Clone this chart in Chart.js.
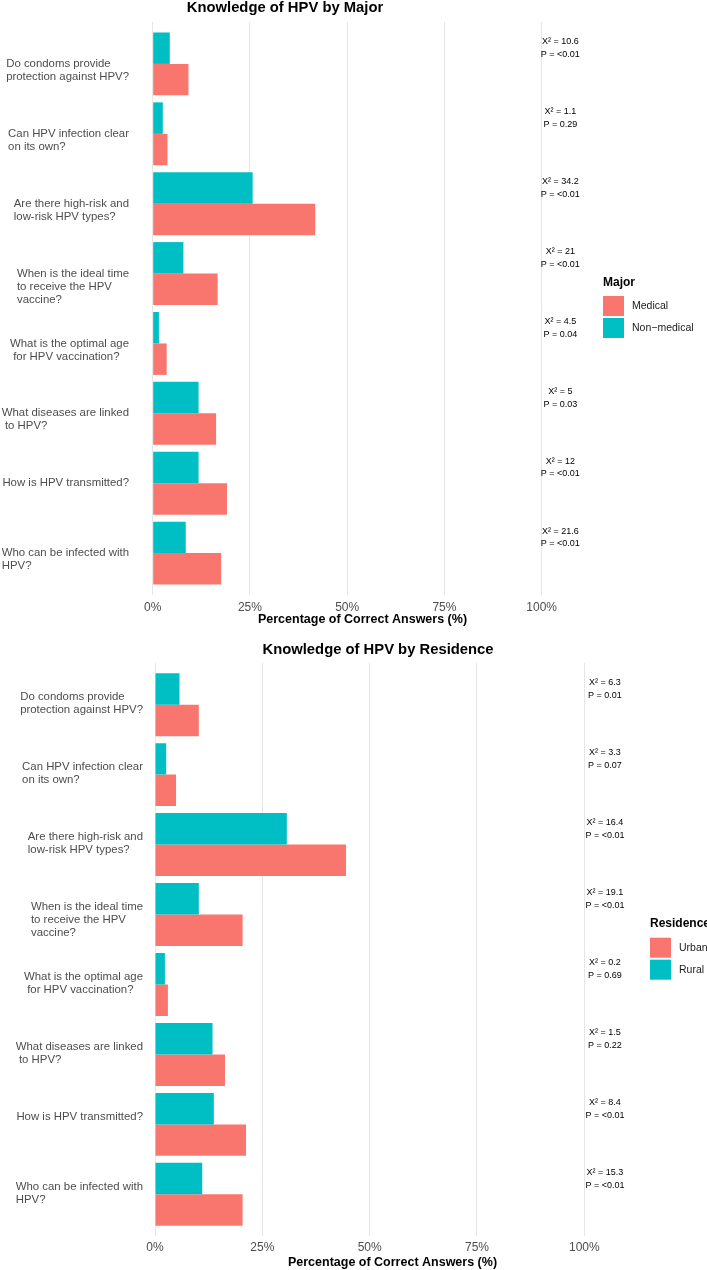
<!DOCTYPE html>
<html><head><meta charset="utf-8">
<script src="https://cdn.jsdelivr.net/npm/chart.js@4/dist/chart.umd.min.js"></script>
<style>
html,body{margin:0;padding:0;background:#fff;width:707px;height:1270px;overflow:hidden}
.wrap{position:absolute;left:0;width:707px;height:635px}
canvas{display:block}
</style></head><body>
<div class="wrap" style="top:0"><canvas id="c1" width="707" height="635"></canvas></div>
<div class="wrap" style="top:635px"><canvas id="c2" width="707" height="635"></canvas></div>
<script>
// ---- data ----
const questions = [
  ["Do condoms provide", "protection against HPV?"],
  ["Can HPV infection clear", "on its own?"],
  ["Are there high-risk and", "low-risk HPV types?"],
  ["When is the ideal time", "to receive the HPV", "vaccine?"],
  ["What is the optimal age", " for HPV vaccination?"],
  ["What diseases are linked", " to HPV?"],
  ["How is HPV transmitted?"],
  ["Who can be infected with", "HPV?"]
];
const majorMedical    = [9.2, 3.8, 41.8, 16.7, 3.6, 16.3, 19.1, 17.6];
const majorNonMedical = [4.4, 2.6, 25.7, 7.9, 1.6, 11.8, 11.8, 8.5];
const majorChi = ["10.6", "1.1", "34.2", "21", "4.5", "5", "12", "21.6"];
const majorP   = ["<0.01", "0.29", "<0.01", "<0.01", "0.04", "0.03", "<0.01", "<0.01"];

const resUrban = [10.2, 4.9, 44.5, 20.4, 3.0, 16.3, 21.2, 20.4];
const resRural = [5.7, 2.6, 30.7, 10.2, 2.3, 13.4, 13.7, 11.0];
const resChi = ["6.3", "3.3", "16.4", "19.1", "0.2", "1.5", "8.4", "15.3"];
const resP   = ["0.01", "0.07", "<0.01", "<0.01", "0.69", "0.22", "<0.01", "<0.01"];

const xTicks = [0, 25, 50, 75, 100];
const annotX = 104.8;
const RED = "#F8766D", TEAL = "#00BFC4";
const FONT = "'Liberation Sans', Arial, Helvetica, sans-serif";

const decor = {
  id: 'decor',
  afterDraw(chart, args, o) {
    const ctx = chart.ctx, ys = chart.scales.y, xs = chart.scales.x;
    ctx.save();
    ctx.font = `bold ${o.titleSize}px ${FONT}`;
    ctx.fillStyle = '#000';
    ctx.textAlign = 'center'; ctx.textBaseline = 'middle';
    ctx.fillText(o.title, o.titleX, o.titleY);
    ctx.font = `11.4px ${FONT}`; ctx.fillStyle = '#4D4D4D'; ctx.textAlign = 'left';
    questions.forEach((lines, i) => {
      const cy = ys.getPixelForValue(i) + o.labelOffset;
      const w = Math.max(...lines.map(l => ctx.measureText(l).width));
      lines.forEach((l, k) => ctx.fillText(l, o.labelRight - w, cy + k * 13));
    });
    ctx.font = `9px ${FONT}`; ctx.fillStyle = '#000'; ctx.textAlign = 'center';
    const ax = xs.getPixelForValue(annotX);
    o.chi.forEach((c, i) => {
      const cy = ys.getPixelForValue(i);
      ctx.fillText('X\u00B2 = ' + c, ax, cy - 22);
      ctx.fillText('P = ' + o.p[i], ax, cy - 9.3);
    });
    ctx.textAlign = 'left';
    ctx.font = `bold 12px ${FONT}`; ctx.fillStyle = '#000';
    ctx.fillText(o.legendTitle, o.legendX, o.legendTitleY);
    o.legendItems.forEach((it, k) => {
      const by = o.legendBoxY + k * 22;
      ctx.fillStyle = it.color;
      ctx.fillRect(o.legendX, by, 21, 20);
      ctx.fillStyle = '#1A1A1A';
      ctx.font = `10.5px ${FONT}`;
      ctx.fillText(it.label, o.legendX + 29, by + 10.5);
    });
    ctx.restore();
  }
};

function makeChart(id, topSeries, bottomSeries, topName, bottomName, cfg) {
  return new Chart(document.getElementById(id), {
    type: 'bar',
    data: {
      datasets: [
        { label: topName, data: topSeries.map((v, i) => ({ x: v, y: i })), backgroundColor: TEAL, borderWidth: 0 },
        { label: bottomName, data: bottomSeries.map((v, i) => ({ x: v, y: i })), backgroundColor: RED, borderWidth: 0 }
      ]
    },
    options: {
      responsive: false, animation: false, indexAxis: 'y',
      categoryPercentage: 0.9, barPercentage: 1.0,
      layout: { padding: { left: 0, right: 707 - cfg.R, top: cfg.T, bottom: 0 } },
      plugins: {
        legend: { display: false }, tooltip: { enabled: false }, title: { display: false },
        decor: cfg.decor
      },
      scales: {
        x: {
          type: 'linear', min: cfg.xmin, max: cfg.xmax,
          afterBuildTicks: s => { s.ticks = xTicks.map(v => ({ value: v })); },
          afterFit: s => { s.height = cfg.H; },
          grid: { color: '#E6E6E6', lineWidth: 1, drawTicks: false },
          border: { display: false },
          ticks: { padding: cfg.tickPad, maxRotation: 0, autoSkip: false,
            font: { size: 12, family: FONT }, color: '#4D4D4D', callback: v => v + '%' },
          title: { display: true, text: 'Percentage of Correct Answers (%)', color: '#000',
            font: { size: 12.5, weight: 'bold', family: FONT, lineHeight: 1 },
            padding: { top: 0, bottom: cfg.titlePad } }
        },
        y: {
          type: 'linear', min: -0.6, max: questions.length - 0.4, reverse: true,
          offset: false, grace: 0, bounds: 'data',
          afterBuildTicks: s => { s.ticks = questions.map((q, i) => ({ value: i })); },
          afterFit: s => { s.width = cfg.L; },
          ticks: { display: false }, grid: { display: false, offset: false }, border: { display: false }
        }
      }
    },
    plugins: [decor]
  });
}

makeChart('c1', majorNonMedical, majorMedical, 'Non\u2212medical', 'Medical', {
  L: 133, R: 592, T: 22, H: 40, xmin: -5.06, xmax: 112.94, tickPad: 5, titlePad: 8.75,
  decor: {
    title: 'Knowledge of HPV by Major', titleSize: 14.8, titleX: 285, titleY: 8,
    labelRight: 129, labelOffset: 0,
    chi: majorChi, p: majorP,
    legendTitle: 'Major', legendX: 603, legendTitleY: 283, legendBoxY: 296,
    legendItems: [{ label: 'Medical', color: RED }, { label: 'Non\u2212medical', color: TEAL }]
  }
});

makeChart('c2', resRural, resUrban, 'Rural', 'Urban', {
  L: 146, R: 639, T: 27.7, H: 33.7, xmin: -2.10, xmax: 112.74, tickPad: 4.4, titlePad: 1,
  decor: {
    title: 'Knowledge of HPV by Residence', titleSize: 14.8, titleX: 378, titleY: 15,
    labelRight: 143, labelOffset: -7.5,
    chi: resChi, p: resP,
    legendTitle: 'Residence', legendX: 650, legendTitleY: 289, legendBoxY: 302.7,
    legendItems: [{ label: 'Urban', color: RED }, { label: 'Rural', color: TEAL }]
  }
});
</script>
</body></html>
